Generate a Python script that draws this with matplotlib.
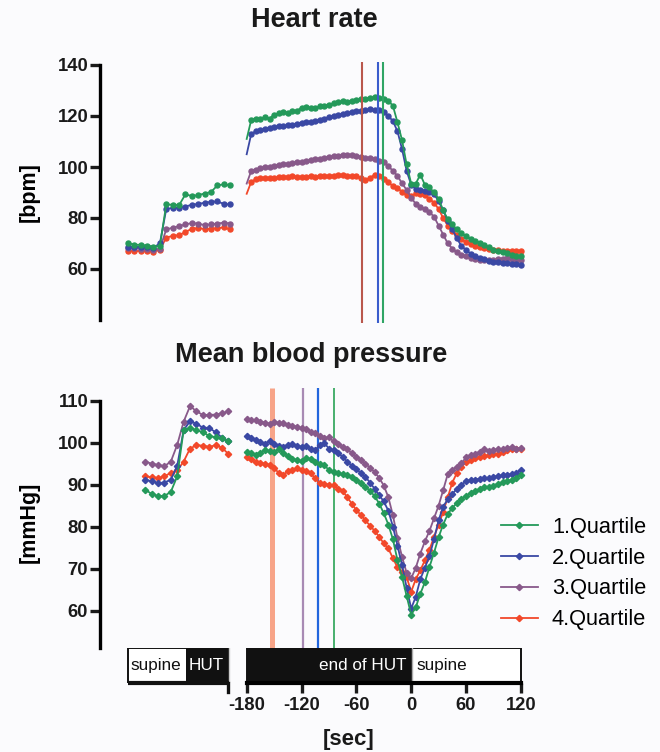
import matplotlib
matplotlib.use("Agg")
import matplotlib.pyplot as plt
from matplotlib.patches import Rectangle

plt.rcParams['font.family'] = ['Liberation Sans', 'DejaVu Sans']

# ---------------- data ----------------
labels = ["1.Quartile", "2.Quartile", "3.Quartile", "4.Quartile"]
colors = ["#24995a", "#3a48a4", "#88598a", "#f2482a"]

# time grid of the right-hand (end of HUT / supine) segment, seconds
t_right = list(range(-180, 125, 5))
# positions of the baseline segment (broken axis, left part)
hr_left_x = [-310, -303, -296, -289, -282, -275, -268, -261, -254, -247, -240,
             -233, -226, -219, -212, -205, -198]
bp_left_x = [-291, -284, -277, -270, -263, -256, -249, -242, -235, -228, -221,
             -214, -207, -200]

# Heart rate, baseline part
hr_left = [
    [70.3, 69.5, 69.5, 69.2, 68.8, 69.0, 85.3, 85.2, 85.0, 89.3, 88.6, 89.0, 89.6, 90.2, 92.8, 93.2, 92.8],
    [68.8, 68.6, 68.7, 68.5, 68.4, 70.0, 83.5, 84.0, 84.0, 84.5, 85.2, 85.5, 86.0, 86.3, 86.5, 85.5, 85.3],
    [68.3, 68.2, 68.0, 67.8, 67.5, 68.0, 75.5, 76.2, 76.8, 77.5, 78.0, 77.8, 77.2, 77.5, 77.8, 78.2, 77.8],
    [67.2, 67.0, 67.1, 66.9, 66.8, 67.5, 72.3, 73.0, 73.3, 74.5, 75.8, 76.0, 75.7, 75.8, 76.0, 76.3, 75.5],
]
# Heart rate, -180..120 s
hr_right = [
    [111.0, 118.5, 119.0, 118.8, 119.5, 119.0, 120.5, 121.0, 121.5, 121.3, 121.8, 122.0,
     123.3, 123.5, 123.0, 123.3, 123.8, 124.0, 124.5, 125.0, 125.3, 125.8, 125.5, 126.0,
     126.3, 126.5, 126.8, 127.0, 127.3, 127.2, 126.8, 126.0, 124.0, 117.5, 110.5, 101.0,
     93.5, 93.5, 97.0, 93.0, 92.0, 90.0, 87.5, 83.0, 79.5, 77.5, 75.5, 74.0,
     72.8, 71.8, 71.0, 70.3, 69.5, 68.5, 67.5, 67.0, 66.5, 66.2, 65.6, 65.2,
     65.0],
    [105.0, 113.0, 114.0, 114.5, 115.0, 115.3, 115.5, 116.0, 116.0, 116.3, 116.5, 117.0,
     117.3, 117.5, 117.6, 118.0, 118.5, 119.0, 119.6, 120.0, 120.3, 120.8, 121.0, 121.5,
     121.8, 122.0, 122.3, 122.6, 122.5, 122.2, 121.5, 120.0, 118.0, 114.0, 107.0, 98.5,
     93.0, 91.5, 91.0, 90.5, 90.3, 89.5, 86.5, 83.0, 79.0, 75.5, 72.0, 69.0,
     67.5, 66.0, 65.2, 64.5, 63.8, 63.3, 62.8, 62.6, 62.4, 62.2, 62.0, 61.8,
     61.6],
    [93.5, 98.5, 99.0, 99.5, 100.0, 100.0, 100.5, 100.8, 101.0, 101.3, 101.5, 101.8,
     102.0, 102.3, 102.7, 103.0, 103.3, 103.7, 104.0, 104.2, 104.5, 104.7, 104.8, 104.6,
     104.3, 104.0, 103.7, 103.5, 103.3, 102.5, 101.8, 100.3, 98.5, 96.5, 93.6, 91.0,
     88.0, 85.5, 84.3, 83.5, 82.3, 80.5, 77.0, 73.5, 70.0, 68.0, 66.5, 65.5,
     65.0, 64.5, 64.0, 63.6, 63.5, 63.5, 63.6, 63.8, 64.0, 64.2, 63.9, 63.7,
     63.6],
    [89.5, 94.2, 95.2, 95.5, 95.5, 95.8, 95.6, 96.0, 96.2, 96.0, 96.3, 96.2,
     96.0, 96.2, 96.4, 96.2, 96.3, 96.4, 96.5, 96.6, 96.7, 96.9, 96.6, 96.4,
     96.3, 95.8, 94.9, 95.8, 96.9, 96.5, 95.2, 94.0, 92.5, 91.7, 90.3, 89.0,
     88.5, 89.7, 89.5, 89.0, 87.5, 86.0, 83.5, 80.0, 77.0, 75.0, 73.5, 71.8,
     70.5, 69.7, 69.0, 68.6, 68.2, 68.0, 67.6, 67.4, 67.2, 67.0, 66.9, 67.1,
     67.1],
]

# Mean blood pressure, baseline part
bp_left = [
    [88.8, 87.8, 87.3, 87.3, 88.3, 92.0, 103.0, 103.5, 103.0, 102.5, 101.6, 101.3, 101.0, 100.3],
    [91.2, 90.8, 90.4, 90.5, 91.2, 94.5, 103.0, 105.1, 104.5, 103.6, 103.5, 102.5, 101.2, 100.3],
    [95.5, 95.0, 94.7, 94.4, 95.5, 99.5, 105.0, 108.7, 107.5, 106.6, 106.6, 106.7, 107.0, 107.5],
    [92.0, 91.8, 91.6, 92.0, 92.8, 93.4, 95.5, 98.6, 99.4, 99.3, 99.0, 99.4, 98.8, 97.3],
]
# Mean blood pressure, -180..120 s
bp_right = [
    [97.8, 97.5, 97.0, 97.6, 98.2, 98.0, 97.8, 98.4, 97.5, 96.8, 96.2, 95.8,
     95.6, 96.3, 96.0, 95.4, 95.0, 94.6, 93.5, 93.0, 92.7, 92.5, 92.3, 91.8,
     91.1, 90.3, 89.5, 88.5, 87.3, 85.5, 83.2, 80.5, 77.0, 72.0, 68.0, 63.5,
     59.0, 60.8, 64.0, 66.8, 70.4, 73.8, 77.5, 80.5, 83.0, 84.5, 85.6, 86.6,
     87.3, 88.0, 88.6, 88.9, 89.5, 89.5, 89.8, 90.2, 90.6, 90.8, 91.2, 91.5,
     92.3],
    [101.5, 101.0, 100.6, 100.2, 99.8, 100.3, 99.8, 99.2, 99.0, 99.5, 99.6, 99.3,
     99.0, 99.2, 98.5, 98.2, 99.5, 99.9, 98.6, 98.2, 97.6, 96.6, 95.5, 94.5,
     93.8, 92.7, 91.8, 90.5, 89.0, 87.5, 86.0, 83.8, 80.0, 75.5, 70.8, 65.5,
     60.5, 63.3, 67.5, 70.2, 73.0, 77.0, 81.5, 84.8, 86.5, 87.8, 89.0, 90.0,
     90.8, 91.1, 91.2, 91.4, 91.5, 91.7, 91.9, 92.0, 92.2, 92.3, 92.5, 92.8,
     93.5],
    [105.6, 105.3, 105.4, 105.0, 104.8, 104.5, 105.0, 104.7, 104.6, 104.2, 104.0, 103.8,
     103.5, 103.2, 102.6, 102.3, 101.6, 101.1, 101.3, 100.3, 99.6, 99.0, 98.4, 97.5,
     96.6, 95.8, 95.0, 94.0, 93.0, 91.6, 89.8, 87.0, 82.7, 77.3, 72.8, 69.0,
     67.7, 70.2, 73.6, 76.5, 79.0, 82.0, 85.0, 88.7, 92.5, 93.5, 94.3, 95.1,
     96.5, 97.0, 97.4, 97.8, 98.6, 98.0, 98.2, 98.5, 98.4, 98.8, 98.9, 98.6,
     98.7],
    [96.6, 96.0, 95.4, 95.2, 95.0, 94.7, 94.0, 92.8, 92.3, 93.2, 93.5, 93.9,
     93.5, 93.2, 92.7, 91.5, 90.3, 90.2, 90.0, 89.9, 89.0, 88.5, 87.0, 85.5,
     83.9, 82.8, 81.5, 80.2, 79.0, 77.6, 76.0, 74.8, 72.5, 70.3, 69.2, 68.0,
     64.5, 67.5, 69.6, 72.0, 74.5, 77.6, 80.5, 83.5, 87.0, 90.5, 92.8, 94.3,
     95.3, 95.8, 96.3, 96.6, 96.8, 97.0, 97.2, 97.4, 97.7, 98.2, 98.4, 98.6,
     98.6],
]

# vertical marker lines (s)
hr_vlines = [-30.6, -36.0, -53.6]          # quartile 1, 2, 4
hr_vline_colors = ["#2fa565", "#3a5ccc", "#b9574c"]
bp_vlines = [-85.0, -102.0, -118.0, -152.0]  # quartile 1, 2, 3, 4
bp_vline_colors = ["#3aaa62", "#2266dd", "#a88ab4", "#f7a488"]
bp_vline_widths = [1.3, 1.6, 1.6, 3.6]

hr_yticks = [60, 80, 100, 120, 140]
bp_yticks = [60, 70, 80, 90, 100, 110]
x_ticks = [-180, -120, -60, 0, 60, 120]

# ---------------- figure ----------------
W, H = 660, 752
fig = plt.figure(figsize=(W / 100, H / 100), dpi=100)
bg = "#fbfbfd"
fig.patch.set_facecolor(bg)


def px_axes(x0, y0, x1, y1):
    return fig.add_axes([x0 / W, 1 - y1 / H, (x1 - x0) / W, (y1 - y0) / H])


xlim = (-340.5, 130.0)
tick_font = dict(fontsize=13.3, fontweight='bold')

# Heart rate panel
ax1 = px_axes(100, 65, 530, 320)
ax1.set_facecolor('none')
ax1.set_xlim(*xlim)
ax1.set_ylim(40, 140)
for i in range(4):
    ax1.plot(hr_left_x, hr_left[i], color=colors[i], lw=1.3, marker='o', ms=3.6,
             mec=colors[i], zorder=3 + (3 - i) * 0.1)
    ax1.plot(t_right, hr_right[i], color=colors[i], lw=1.3, marker='o', ms=3.6,
             mec=colors[i], zorder=3 + (3 - i) * 0.1, markevery=list(range(1, len(t_right))))
for x, c in zip(hr_vlines, hr_vline_colors):
    ax1.vlines(x, 39.0, 141.2, color=c, lw=1.5, clip_on=False, zorder=4)

# Mean blood pressure panel
ax2 = px_axes(100, 400.7, 530, 648)
ax2.set_facecolor('none')
ax2.set_xlim(*xlim)
ax2.set_ylim(51.1, 110)
for x, c, w in zip(bp_vlines, bp_vline_colors, bp_vline_widths):
    ax2.vlines(x, 51.1, 113.0, color=c, lw=w, clip_on=False, zorder=2)
handles = []
for i in range(4):
    ax2.plot(bp_left_x, bp_left[i], color=colors[i], lw=1.3, marker='D', ms=3.2,
             mec=colors[i], zorder=3 + (3 - i) * 0.1)
    h, = ax2.plot(t_right, bp_right[i], color=colors[i], lw=1.3, marker='D', ms=3.2,
                  mec=colors[i], zorder=3 + (3 - i) * 0.1, label=labels[i])
    handles.append(h)

for ax, yt in ((ax1, hr_yticks), (ax2, bp_yticks)):
    for s in ('top', 'right', 'bottom'):
        ax.spines[s].set_visible(False)
    ax.spines['left'].set_linewidth(2.4)
    ax.set_xticks([])
    ax.set_yticks(yt)
    ax.set_yticklabels([str(v) for v in yt], **tick_font)
    ax.tick_params(axis='y', length=7, width=2.4, pad=1.5, colors='#1a1a1a')

ax1.set_ylabel("[bpm]", fontsize=15.5, fontweight='bold')
ax2.set_ylabel("[mmHg]", fontsize=15.5, fontweight='bold')
ax1.yaxis.set_label_coords(-0.14, 0.5)
ax2.yaxis.set_label_coords(-0.14, 0.51)

# Posture bar / x axis
axb = px_axes(100, 648, 530, 683)
axb.set_facecolor('none')
axb.set_xlim(*xlim)
axb.set_ylim(0, 1)
axb.add_patch(Rectangle((-310, 0), 65, 1, fc='white', ec='#111111', lw=1.4))
axb.add_patch(Rectangle((-245, 0), 46, 1, fc='#111111', ec='#111111', lw=1.4))
axb.add_patch(Rectangle((-180, 0), 180, 1, fc='#111111', ec='#111111', lw=1.4))
axb.add_patch(Rectangle((0, 0), 120, 1, fc='white', ec='#111111', lw=1.4))
axb.plot([-199, -199], [0, 1], color='#cccccc', lw=1.0)
axb.plot([0.5, 0.5], [0, 1], color='#aaaaaa', lw=1.0)
axb.plot([-310, -199], [0, 0], color='#111111', lw=3.0, solid_capstyle='butt', clip_on=False)
axb.plot([-200, -200], [0, -0.25], color='#111111', lw=2.4, clip_on=False)
txt = dict(fontsize=12.3, va='center')
axb.text(-307, 0.5, "supine", color='#111111', ha='left', **txt)
axb.text(-243, 0.5, "HUT", color='white', ha='left', **txt)
axb.text(-5, 0.5, "end of HUT", color='white', ha='right', **txt)
axb.text(6, 0.5, "supine", color='#111111', ha='left', **txt)
for s in ('top', 'right', 'left'):
    axb.spines[s].set_visible(False)
axb.spines['bottom'].set_bounds(-180, 120)
axb.spines['bottom'].set_linewidth(3.0)
axb.set_yticks([])
axb.set_xticks(x_ticks)
axb.set_xticklabels([str(v) for v in x_ticks], fontsize=13.2, fontweight='bold')
axb.tick_params(axis='x', length=7, width=2.4, pad=3, colors='#1a1a1a')

fig.text(349 / W, 1 - 740 / H, "[sec]", ha='center', va='center', fontsize=16,
         fontweight='bold', color='#1a1a1a')
fig.text(314 / W, 1 - 20 / H, "Heart rate", ha='center', va='center', fontsize=19.5,
         fontweight='bold', color='#1a1a1a')
fig.text(311 / W, 1 - 355 / H, "Mean blood pressure", ha='center', va='center',
         fontsize=19.5, fontweight='bold', color='#1a1a1a')

leg = fig.legend(handles=handles, labels=labels, loc='upper left',
                 bbox_to_anchor=(492 / W, 1 - 508 / H), frameon=False,
                 fontsize=15.7, handlelength=1.7, handletextpad=0.65,
                 labelspacing=0.45, borderaxespad=0)

fig.savefig("out.png", dpi=100, facecolor=fig.get_facecolor())
